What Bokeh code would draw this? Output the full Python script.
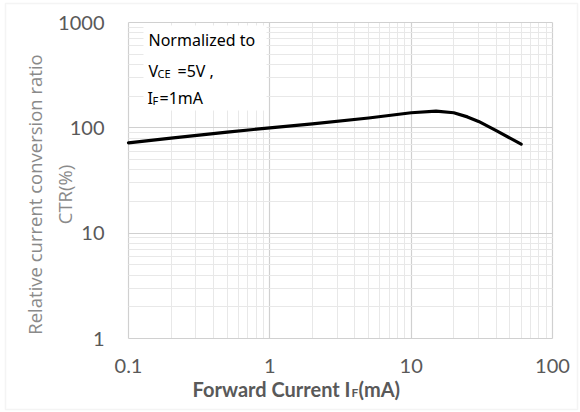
from bokeh.plotting import figure
from bokeh.models import FixedTicker, Label, BoxAnnotation
from bokeh.embed import file_html
from bokeh.resources import INLINE
import math

# Relative CTR versus forward current (normalized at VCE = 5 V, IF = 1 mA)
forward_current_ma = [0.1, 0.2, 0.5, 1, 2, 5, 10, 15, 20, 25, 30, 40, 60]
relative_ctr = [72, 80, 91, 100, 109, 124, 139, 144, 139, 127, 115, 94, 70]

x_ticks = [0.1, 1, 10, 100]
y_ticks = [1, 10, 100, 1000]
x_minor = [m * d for d in (0.1, 1, 10) for m in range(2, 10)]
y_minor = [m * d for d in (1, 10, 100) for m in range(2, 10)]
XMIN, XMAX, YMIN, YMAX = x_ticks[0], x_ticks[-1], y_ticks[0], y_ticks[-1]

# canvas size and the pixel box of the plotting area inside it
W, H = 580, 412
PL, PR, PT, PB = 128, 552, 22, 338

# the frame fills the whole canvas; ranges are widened so the data box lands on PL..PR / PT..PB
lx0, lx1 = math.log10(XMIN), math.log10(XMAX)
ly0, ly1 = math.log10(YMIN), math.log10(YMAX)
kx = (lx1 - lx0) / (PR - PL)
ky = (ly1 - ly0) / (PB - PT)
x_range = (10 ** (lx0 - PL * kx), 10 ** (lx1 + (W - PR) * kx))
y_range = (10 ** (ly0 - (H - PB) * ky), 10 ** (ly1 + PT * ky))


def px_x(px):
    return 10 ** (lx0 + (px - PL) * kx)


def px_y(py):
    return 10 ** (ly0 + (PB - py) * ky)


p = figure(width=W, height=H, x_axis_type="log", y_axis_type="log",
           x_range=x_range, y_range=y_range,
           output_backend="svg", toolbar_location=None,
           min_border=0)
p.outline_line_color = None
p.background_fill_color = "white"
p.border_fill_color = "white"

tick_font = "Lato"
for ax, ticks, minor in ((p.xaxis[0], x_ticks, x_minor), (p.yaxis[0], y_ticks, y_minor)):
    ax.ticker = FixedTicker(ticks=ticks, minor_ticks=minor)
    ax.axis_line_color = None
    ax.major_tick_line_color = None
    ax.minor_tick_line_color = None
    ax.major_label_text_font = tick_font
    ax.major_label_text_font_size = "20px"
    ax.major_label_text_color = "#595959"

p.xaxis[0].fixed_location = YMIN
p.yaxis[0].fixed_location = XMIN
p.xaxis[0].bounds = (XMIN, XMAX)
# y title is centred a little below the middle of the plotting box
p.yaxis[0].bounds = (px_y(366), YMAX)
p.xaxis[0].major_label_overrides = {0.1: "0.1", 1: "1", 10: "10", 100: "100"}
p.yaxis[0].major_label_overrides = {1: "1", 10: "10", 100: "100", 1000: "1000"}
p.xaxis[0].major_label_standoff = 14
p.yaxis[0].major_label_standoff = 18

p.yaxis[0].axis_label = "Relative current conversion ratio\nCTR(%)"
p.yaxis[0].axis_label_text_font = "Open Sans"
p.yaxis[0].axis_label_text_font_style = "normal"
p.yaxis[0].axis_label_text_font_size = "18.5px"
p.yaxis[0].axis_label_text_color = "#8a8a8a"
p.yaxis[0].axis_label_standoff = -22

for g, b, cb in ((p.xgrid[0], (XMIN, XMAX), (YMIN, YMAX)), (p.ygrid[0], (YMIN, YMAX), (XMIN, XMAX))):
    g.bounds = b
    g.cross_bounds = cb
    g.grid_line_color = "#d0d0d0"
    g.grid_line_width = 1.2
    g.minor_grid_line_color = "#e8e8e8"
    g.minor_grid_line_width = 1

# white text box behind the normalization note
p.add_layout(BoxAnnotation(left=px_x(143), right=px_x(266), top=px_y(25), bottom=px_y(110),
                           fill_color="white", fill_alpha=1, line_color=None, level="underlay"))

# chart-area border
p.add_layout(BoxAnnotation(left=px_x(5), right=px_x(577), top=px_y(3), bottom=px_y(409),
                           fill_color=None, fill_alpha=0, line_color="#d9d9d9",
                           line_width=1.5, level="overlay"))

p.line(forward_current_ma, relative_ctr, line_color="black", line_width=3.2,
       line_join="round", line_cap="round")

note = dict(text_font="Noto Sans", text_color="black", text_baseline="middle", level="overlay")
p.add_layout(Label(x=px_x(148), y=px_y(39), text="Normalized to", text_font_size="16px", **note))
p.add_layout(Label(x=px_x(148), y=px_y(70), text="V", text_font_size="16px", **note))
p.add_layout(Label(x=px_x(157), y=px_y(73), text="CE", text_font_size="11px", **note))
p.add_layout(Label(x=px_x(177), y=px_y(70), text="=5V ,", text_font_size="16px", **note))
p.add_layout(Label(x=px_x(147), y=px_y(97), text="I", text_font_size="16px", **note))
p.add_layout(Label(x=px_x(152), y=px_y(100), text="F", text_font_size="11px", **note))
p.add_layout(Label(x=px_x(159), y=px_y(97), text="=1mA", text_font_size="16px", **note))

# x-axis title with subscript F
xl = dict(text_font=tick_font, text_color="#595959", text_font_style="bold",
          text_baseline="middle", level="overlay")
p.add_layout(Label(x=px_x(350), y=px_y(388), text="Forward Current I", text_align="right",
                   text_font_size="20px", **xl))
p.add_layout(Label(x=px_x(351), y=px_y(392), text="F", text_font_size="12px", **xl))
p.add_layout(Label(x=px_x(358), y=px_y(388), text="(mA)", text_font_size="20px", **xl))

open("out.html", "w").write(file_html(p, INLINE))
